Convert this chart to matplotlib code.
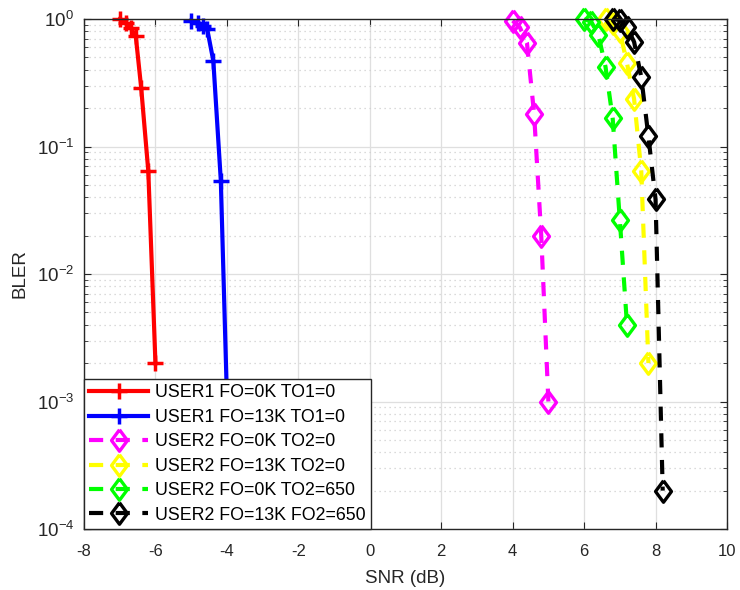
import matplotlib
matplotlib.use("Agg")
from matplotlib import pyplot as plt
from matplotlib.ticker import LogLocator, NullLocator, NullFormatter

plt.rcParams['font.family'] = ['Liberation Sans', 'DejaVu Sans']
plt.rcParams['axes.unicode_minus'] = False

# SNR (dB) / BLER
snr_u1_fo0 = [-7.0, -6.82, -6.68, -6.55, -6.4, -6.2, -6.0]
bler_u1_fo0 = [1.0, 0.925, 0.845, 0.73, 0.29, 0.064, 0.002]

snr_u1_fo13 = [-5.0, -4.8, -4.66, -4.55, -4.38, -4.17, -4.0]
bler_u1_fo13 = [0.97, 0.935, 0.88, 0.83, 0.47, 0.054, 0.0011]

snr_u2_fo0 = [4.0, 4.2, 4.4, 4.6, 4.8, 5.0]
bler_u2_fo0 = [0.97, 0.86, 0.65, 0.18, 0.02, 0.001]

snr_u2_fo13 = [6.6, 6.8, 7.0, 7.2, 7.4, 7.6, 7.8]
bler_u2_fo13 = [1.0, 0.93, 0.8, 0.45, 0.235, 0.064, 0.002]

snr_u2_fo0_to650 = [6.0, 6.2, 6.4, 6.6, 6.8, 7.0, 7.2]
bler_u2_fo0_to650 = [1.0, 0.95, 0.75, 0.42, 0.166, 0.0265, 0.004]

snr_u2_fo13_to650 = [6.8, 7.0, 7.2, 7.4, 7.6, 7.8, 8.0, 8.2]
bler_u2_fo13_to650 = [1.0, 0.98, 0.865, 0.66, 0.35, 0.12, 0.0385, 0.0002]

labels = ['USER1 FO=0K TO1=0', 'USER1 FO=13K TO1=0',
          'USER2 FO=0K TO2=0', 'USER2 FO=13K TO2=0',
          'USER2 FO=0K TO2=650', 'USER2 FO=13K FO2=650']

fig = plt.figure(figsize=(7.4, 5.9), dpi=100)
ax = fig.add_axes([84 / 740, 61 / 590, 643 / 740, 510 / 590])

dash = (0, (3.4, 3.0))
diamond = [(0, 1), (0.74, 0), (0, -1), (-0.74, 0), (0, 1)]

ax.semilogy(snr_u1_fo0, bler_u1_fo0, color='r', lw=3, marker='+', ms=11, mew=2.5,
            label=labels[0], clip_on=False)
ax.semilogy(snr_u1_fo13, bler_u1_fo13, color='b', lw=3, marker='+', ms=11, mew=2.5,
            label=labels[1], clip_on=False)

for xs, ys, c, lab in [(snr_u2_fo0, bler_u2_fo0, (1, 0, 1), labels[2]),
                       (snr_u2_fo13, bler_u2_fo13, (1, 1, 0), labels[3]),
                       (snr_u2_fo0_to650, bler_u2_fo0_to650, (0, 1, 0), labels[4]),
                       (snr_u2_fo13_to650, bler_u2_fo13_to650, 'k', labels[5])]:
    ax.semilogy(xs, ys, color=c, lw=3, ls=dash, marker=diamond, ms=15.5, mew=2.4,
                mfc='none', label=lab, clip_on=False)

ax.set_xlim(-8, 10)
ax.set_ylim(1e-4, 1)
ax.set_xticks(range(-8, 11, 2))
ax.xaxis.set_minor_locator(NullLocator())
ax.yaxis.set_major_locator(LogLocator(base=10, numticks=10))
ax.yaxis.set_minor_locator(LogLocator(base=10, subs=range(2, 10), numticks=20))
ax.yaxis.set_minor_formatter(NullFormatter())

ax.grid(True, which='major', color='#dfdfdf', lw=0.9)
ax.grid(True, which='minor', axis='y', color='#cfcfcf', ls=(0, (1, 3)), lw=0.9)
ax.set_axisbelow(True)

for s in ax.spines.values():
    s.set_color('#262626')
    s.set_linewidth(1.0)
ax.tick_params(which='both', direction='in', top=True, right=True, colors='#262626')
ax.tick_params(which='major', length=5)
ax.tick_params(which='minor', length=3)
ax.tick_params(axis='x', pad=11, labelsize=12)
ax.tick_params(axis='y', pad=7, labelsize=13.5)

ax.set_xlabel('SNR (dB)', fontsize=13.5, color='#262626', labelpad=8)
ax.set_ylabel('BLER', fontsize=13.5, color='#262626', labelpad=6)

leg = ax.legend(loc='lower left', borderaxespad=0, fontsize=12.8, fancybox=False,
                framealpha=1, edgecolor='#262626', handlelength=3.3,
                handletextpad=0.4, labelspacing=0.42, borderpad=0.3)
leg.get_frame().set_linewidth(1.0)

fig.savefig('out.png', dpi=100)
